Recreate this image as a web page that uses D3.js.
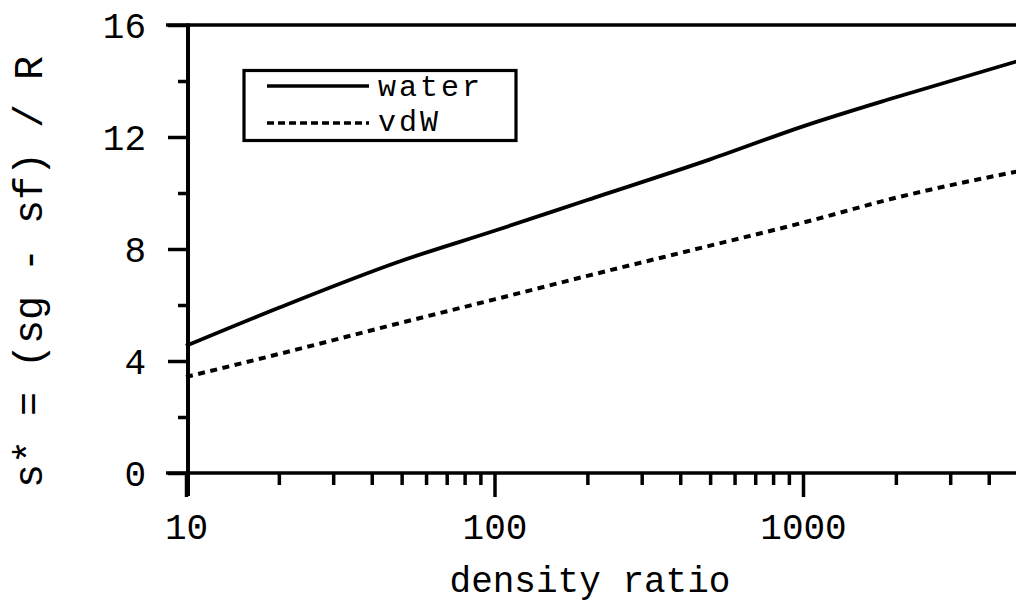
<!DOCTYPE html>
<html>
<head>
<meta charset="utf-8">
<script src="https://cdn.jsdelivr.net/npm/d3@7"></script>
<style>
  html, body { margin: 0; padding: 0; background: #fff; }
  svg { display: block; }
  text { font-family: "Liberation Mono", "Courier New", monospace; fill: #000; }
</style>
</head>
<body>
<svg id="chart" width="1016" height="603"></svg>
<script>
// density ratio (rho_f / rho_g) sample points
const ratios = [10, 20, 50, 100, 200, 500, 1000, 2000, 5000];
// reduced entropy of vaporisation s* = (sg - sf) / R
const waterValues = [4.54, 5.9, 7.58, 8.65, 9.75, 11.2, 12.38, 13.42, 14.72];
const vdwValues = [3.43, 4.25, 5.37, 6.2, 7.04, 8.12, 8.94, 9.83, 10.78];

const seriesNames = ["water", "vdW"];
const yTickValues = [0, 4, 8, 12, 16];
const yMinorValues = [2, 6, 10, 14];
const xTickLabels = ["10", "100", "1000"];

const svg = d3.select("#chart");

const x = d3.scaleLog().domain([10, 5000]).range([186, 186 + Math.log10(500) * 308.5]);
const y = d3.scaleLinear().domain([0, 16]).range([473, 25]);

const ink = "#000";

// top frame line
svg.append("line")
  .attr("x1", 166).attr("x2", x(5000))
  .attr("y1", y(16)).attr("y2", y(16))
  .attr("stroke", ink).attr("stroke-width", 3.5);

// y axis
const yAxis = d3.axisLeft(y).tickValues(yTickValues).tickSize(20).tickPadding(22)
  .tickFormat(d3.format("d"));
const gy = svg.append("g").attr("transform", "translate(188,0)").call(yAxis);
gy.select(".domain").remove();
gy.selectAll(".tick line").attr("stroke", ink).attr("stroke-width", 3.5);
gy.selectAll(".tick text").style("font-size", "36px").attr("dy", "0.36em");

const yMinor = d3.axisLeft(y).tickValues(yMinorValues).tickSize(10).tickFormat("");
const gym = svg.append("g").attr("transform", "translate(188,0)").call(yMinor);
gym.select(".domain").remove();
gym.selectAll(".tick line").attr("stroke", ink).attr("stroke-width", 3.5);

// y axis spine, extended below the x axis
svg.append("line")
  .attr("x1", 188).attr("x2", 188)
  .attr("y1", y(16) - 1.5).attr("y2", 496)
  .attr("stroke", ink).attr("stroke-width", 4);

// x axis: decades get long labelled ticks, the rest short ones
const majors = x.ticks().filter(d => Math.abs(Math.log10(d) % 1) < 1e-9);
const minors = x.ticks().filter(d => Math.abs(Math.log10(d) % 1) >= 1e-9);

const xAxis = d3.axisBottom(x).tickValues(majors).tickSize(24).tickPadding(16)
  .tickFormat((d, i) => xTickLabels[i]);
const gx = svg.append("g").attr("transform", `translate(0,${y(0)})`).call(xAxis);
gx.select(".domain").remove();
gx.selectAll(".tick line").attr("stroke", ink).attr("stroke-width", 3.5);
gx.selectAll(".tick text").style("font-size", "36px");

const xMinor = d3.axisBottom(x).tickValues(minors).tickSize(12).tickFormat("");
const gxm = svg.append("g").attr("transform", `translate(0,${y(0)})`).call(xMinor);
gxm.select(".domain").remove();
gxm.selectAll(".tick line").attr("stroke", ink).attr("stroke-width", 3.5);

svg.append("line")
  .attr("x1", 166).attr("x2", x(5000))
  .attr("y1", y(0)).attr("y2", y(0))
  .attr("stroke", ink).attr("stroke-width", 3.5);

// axis titles
svg.append("text")
  .attr("x", 590).attr("y", 592)
  .attr("text-anchor", "middle")
  .style("font-size", "36px")
  .text("density ratio");

svg.append("text")
  .attr("transform", "translate(42,272) rotate(-90)")
  .attr("text-anchor", "middle")
  .style("font-size", "40px")
  .text("s* = (sg - sf) / R");

// curves
const line = d3.line()
  .x((d, i) => x(ratios[i]))
  .y(d => y(d))
  .curve(d3.curveMonotoneX);

svg.append("path")
  .datum(waterValues)
  .attr("d", line)
  .attr("fill", "none")
  .attr("stroke", ink)
  .attr("stroke-width", 3.8);

svg.append("path")
  .datum(vdwValues)
  .attr("d", line)
  .attr("fill", "none")
  .attr("stroke", ink)
  .attr("stroke-width", 4)
  .attr("stroke-dasharray", "7,5.5");

// legend
const legend = svg.append("g");
legend.append("rect")
  .attr("x", 244).attr("y", 70.5)
  .attr("width", 272).attr("height", 70)
  .attr("fill", "#fff").attr("stroke", ink).attr("stroke-width", 3.2);

const legendRows = [
  { name: seriesNames[0], dash: null, ly: 86, ty: 96 },
  { name: seriesNames[1], dash: "7,4", ly: 123, ty: 131 }
];
legendRows.forEach(r => {
  legend.append("line")
    .attr("x1", 267).attr("x2", 369)
    .attr("y1", r.ly).attr("y2", r.ly)
    .attr("stroke", ink).attr("stroke-width", 3.5)
    .attr("stroke-dasharray", r.dash);
  legend.append("text")
    .attr("x", 378).attr("y", r.ty)
    .style("font-size", "30px")
    .style("letter-spacing", "3px")
    .text(r.name);
});
</script>
</body>
</html>
